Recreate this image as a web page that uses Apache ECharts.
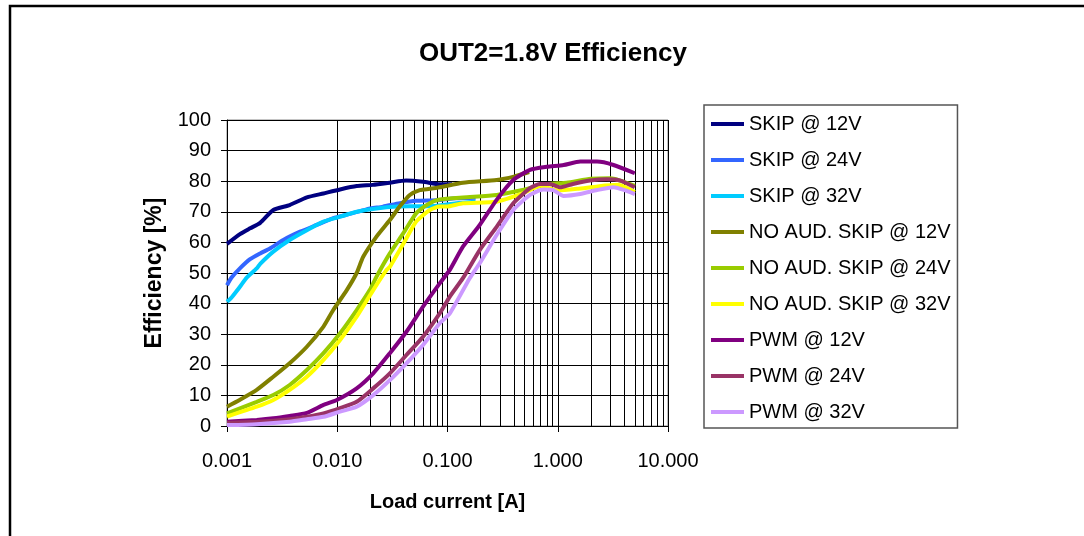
<!DOCTYPE html>
<html>
<head>
<meta charset="utf-8">
<script src="https://cdn.jsdelivr.net/npm/echarts@6/dist/echarts.min.js"></script>
<style>
html,body{margin:0;padding:0;background:#fff;}
#chart{width:1084px;height:536px;}
</style>
</head>
<body>
<div id="chart"></div>
<script>
const titleText = 'OUT2=1.8V Efficiency';
const xName = 'Load current [A]';
const yName = 'Efficiency [%]';

const seriesNames = ['SKIP @ 12V','SKIP @ 24V','SKIP @ 32V','NO AUD. SKIP @ 12V','NO AUD. SKIP @ 24V','NO AUD. SKIP @ 32V','PWM @ 12V','PWM @ 24V','PWM @ 32V'];
const seriesColors = ['#000080','#3366FF','#00CCFF','#808000','#99CC00','#FFFF00','#800080','#993366','#CC99FF'];

const skip12X = [0.001,0.00131,0.00162,0.002,0.00263,0.0037,0.0053,0.0075,0.0106,0.015,0.021,0.030,0.042,0.060,0.085,0.11];
const skip12Y = [59.5,62.7,64.6,66.4,70.6,72.2,74.7,76,77.3,78.4,78.8,79.5,80.2,79.8,79,79];

const skip24X = [0.001,0.0011,0.00131,0.00162,0.002,0.00245,0.00324,0.0046,0.0065,0.0092,0.013,0.0184,0.026,0.037,0.052,0.08,0.12,0.18];
const skip24Y = [46,48.5,51.5,54.5,56.4,58,60.8,63.5,65.7,67.9,69.3,70.8,71.7,72.8,73.6,73.8,74.4,74.6];

const skip32X = [0.001,0.0011,0.00131,0.00151,0.00186,0.002,0.00263,0.0037,0.0053,0.0075,0.0106,0.015,0.0227,0.0346,0.052,0.08,0.12,0.18];
const skip32Y = [40.6,42,45.5,48.5,51.5,53,57,60.8,64,66.8,68.4,70,71.1,71.7,71.8,72,72.8,73.3];

const noAud12X = [0.001,0.0013,0.00186,0.00263,0.0037,0.0053,0.0075,0.0092,0.0122,0.015,0.0172,0.0227,0.030,0.0368,0.0455,0.056,0.069,0.085,0.138,0.279,0.4,0.55];
const noAud12Y = [6.3,8.5,11.8,16.1,20.5,25.9,32.5,37.9,44.4,50,55.3,61.9,67.3,71.7,75.5,77.1,77.5,78,79.5,80.4,81.5,83];

const noAud24X = [0.001,0.00186,0.00263,0.0037,0.0053,0.0075,0.0106,0.015,0.0197,0.0227,0.030,0.0398,0.052,0.069,0.085,0.138,0.279,0.48,0.8,1.2,2,3,5];
const noAud24Y = [4.1,7.9,10.1,13.4,18.3,23.8,30.3,37.9,44.4,48.8,56.4,63,69.5,72.8,74,74.7,75.5,77.1,79,79.5,80.8,81,78.5];

const noAud32X = [0.001,0.00186,0.00263,0.0037,0.0053,0.0075,0.0106,0.015,0.0212,0.028,0.030,0.04,0.052,0.069,0.085,0.098,0.138,0.279,0.48,0.7,1,1.5,2.3,3.5,5];
const noAud32Y = [3.1,6.3,8.5,11.8,16.1,21.6,28.1,35.7,44.4,51,52,59.7,66.8,70.6,71.7,71.7,72.8,73.3,76,78.5,77,77.5,78.3,78.8,76.5];

const pwm12X = [0.001,0.00186,0.00263,0.0037,0.0053,0.0075,0.0099,0.015,0.0212,0.030,0.0424,0.060,0.085,0.105,0.138,0.196,0.279,0.395,0.56,0.795,1.13,1.6,2.27,3.2,5.0];
const pwm12Y = [1.4,2,2.5,3.3,4.3,6.9,8.5,12.3,17.2,23.8,30.8,39,46.6,51,58.6,65.7,73.9,80.4,83.7,84.7,85.3,86.4,86.4,85.3,82.6];

const pwm24X = [0.001,0.00186,0.00263,0.0037,0.0053,0.0075,0.0106,0.015,0.0212,0.030,0.0424,0.060,0.085,0.105,0.138,0.196,0.279,0.395,0.56,0.69,0.85,1.05,1.37,1.96,2.77,3.7,5.0];
const pwm24Y = [1.1,1.4,1.7,2.2,3,4.1,5.8,7.9,12.3,17.2,23.2,29.2,36.8,42.3,48.3,57.5,65.1,72.8,77.7,79.1,79.1,78,79.1,80.2,80.6,80.2,78];

const pwm32X = [0.001,0.00186,0.0037,0.0053,0.0075,0.0106,0.015,0.0212,0.030,0.0424,0.060,0.085,0.105,0.159,0.196,0.279,0.395,0.56,0.74,0.91,1.13,1.6,2.27,3.2,5.0];
const pwm32Y = [0.3,0.6,1.4,2.2,3,4.7,6.3,10.1,15,20.5,26.5,33.6,36.8,48.3,53.2,62.4,70.6,75.5,77.3,77.1,75.2,75.8,77.1,78,75.8];

const minorTicks = [0.002,0.003,0.004,0.005,0.006,0.007,0.008,0.009,
  0.02,0.03,0.04,0.05,0.06,0.07,0.08,0.09,
  0.2,0.3,0.4,0.5,0.6,0.7,0.8,0.9,
  2,3,4,5,6,7,8,9];

const xs = [skip12X,skip24X,skip32X,noAud12X,noAud24X,noAud32X,pwm12X,pwm24X,pwm32X];
const ys = [skip12Y,skip24Y,skip32Y,noAud12Y,noAud24Y,noAud32Y,pwm12Y,pwm24Y,pwm32Y];

const FONT = "'Liberation Sans',Arial,sans-serif";

const series = seriesNames.map((name, i) => ({
  name: name,
  type: 'line',
  data: xs[i].map((x, k) => [x, ys[i][k]]),
  symbol: 'none',
  smooth: 0.2,
  lineStyle: { color: seriesColors[i], width: 4 },
  itemStyle: { color: seriesColors[i] },
  z: 3,
  animation: false
}));

series.push({
  name: 'minor',
  type: 'line',
  data: [],
  silent: true,
  markLine: {
    silent: true,
    symbol: 'none',
    label: { show: false },
    lineStyle: { color: '#000', width: 1, type: 'solid' },
    data: minorTicks.map(v => ({ xAxis: v })),
    animation: false,
    z: 1
  },
  z: 1
});

const chart = echarts.init(document.getElementById('chart'));
chart.setOption({
  animation: false,
  backgroundColor: '#fff',
  title: {
    text: titleText,
    left: 548,
    top: 36,
    textAlign: 'center',
    textStyle: { fontFamily: FONT, fontWeight: 'bold', fontSize: 26, color: '#000' }
  },
  graphic: [{
    type: 'polyline',
    shape: { points: [[10, 536], [10, 6], [1084, 6]] },
    style: { stroke: '#000', lineWidth: 2.5, fill: null },
    silent: true
  }],
  grid: {
    left: 227, top: 120, width: 441, height: 306,
    show: true, borderColor: '#888', borderWidth: 1, backgroundColor: 'transparent'
  },
  legend: {
    data: seriesNames.map(n => ({ name: n, icon: 'rect' })),
    orient: 'vertical',
    left: 704, top: 105,
    padding: [7, 7, 4, 7],
    itemWidth: 33, itemHeight: 4, itemGap: 12,
    borderColor: '#555', borderWidth: 1.5,
    backgroundColor: '#fff',
    textStyle: { fontFamily: FONT, fontSize: 20, lineHeight: 24, color: '#000' }
  },
  xAxis: {
    type: 'log',
    logBase: 10,
    min: 0.001, max: 10,
    name: xName,
    nameLocation: 'middle',
    nameGap: 66,
    nameTextStyle: { fontFamily: FONT, fontWeight: 'bold', fontSize: 20, color: '#000' },
    axisLine: { lineStyle: { color: '#000', width: 1 } },
    axisTick: { show: true, inside: false, length: 6, lineStyle: { color: '#000' } },
    axisLabel: {
      margin: 25,
      fontFamily: FONT, fontSize: 20, color: '#000',
      formatter: v => Number(v).toFixed(3)
    },
    splitLine: { show: true, lineStyle: { color: '#000', width: 1 } }
  },
  yAxis: {
    type: 'value',
    min: 0, max: 100, interval: 10,
    name: yName,
    nameLocation: 'middle',
    nameGap: 61,
    nameTextStyle: { fontFamily: FONT, fontWeight: 'bold', fontSize: 23, color: '#000' },
    axisLine: { show: true, lineStyle: { color: '#000', width: 1 } },
    axisTick: { show: true, inside: false, length: 6, lineStyle: { color: '#000' } },
    axisLabel: { margin: 16, fontFamily: FONT, fontSize: 20, color: '#000' },
    splitLine: { show: true, lineStyle: { color: '#000', width: 1 } }
  },
  series: series
});
</script>
</body>
</html>
